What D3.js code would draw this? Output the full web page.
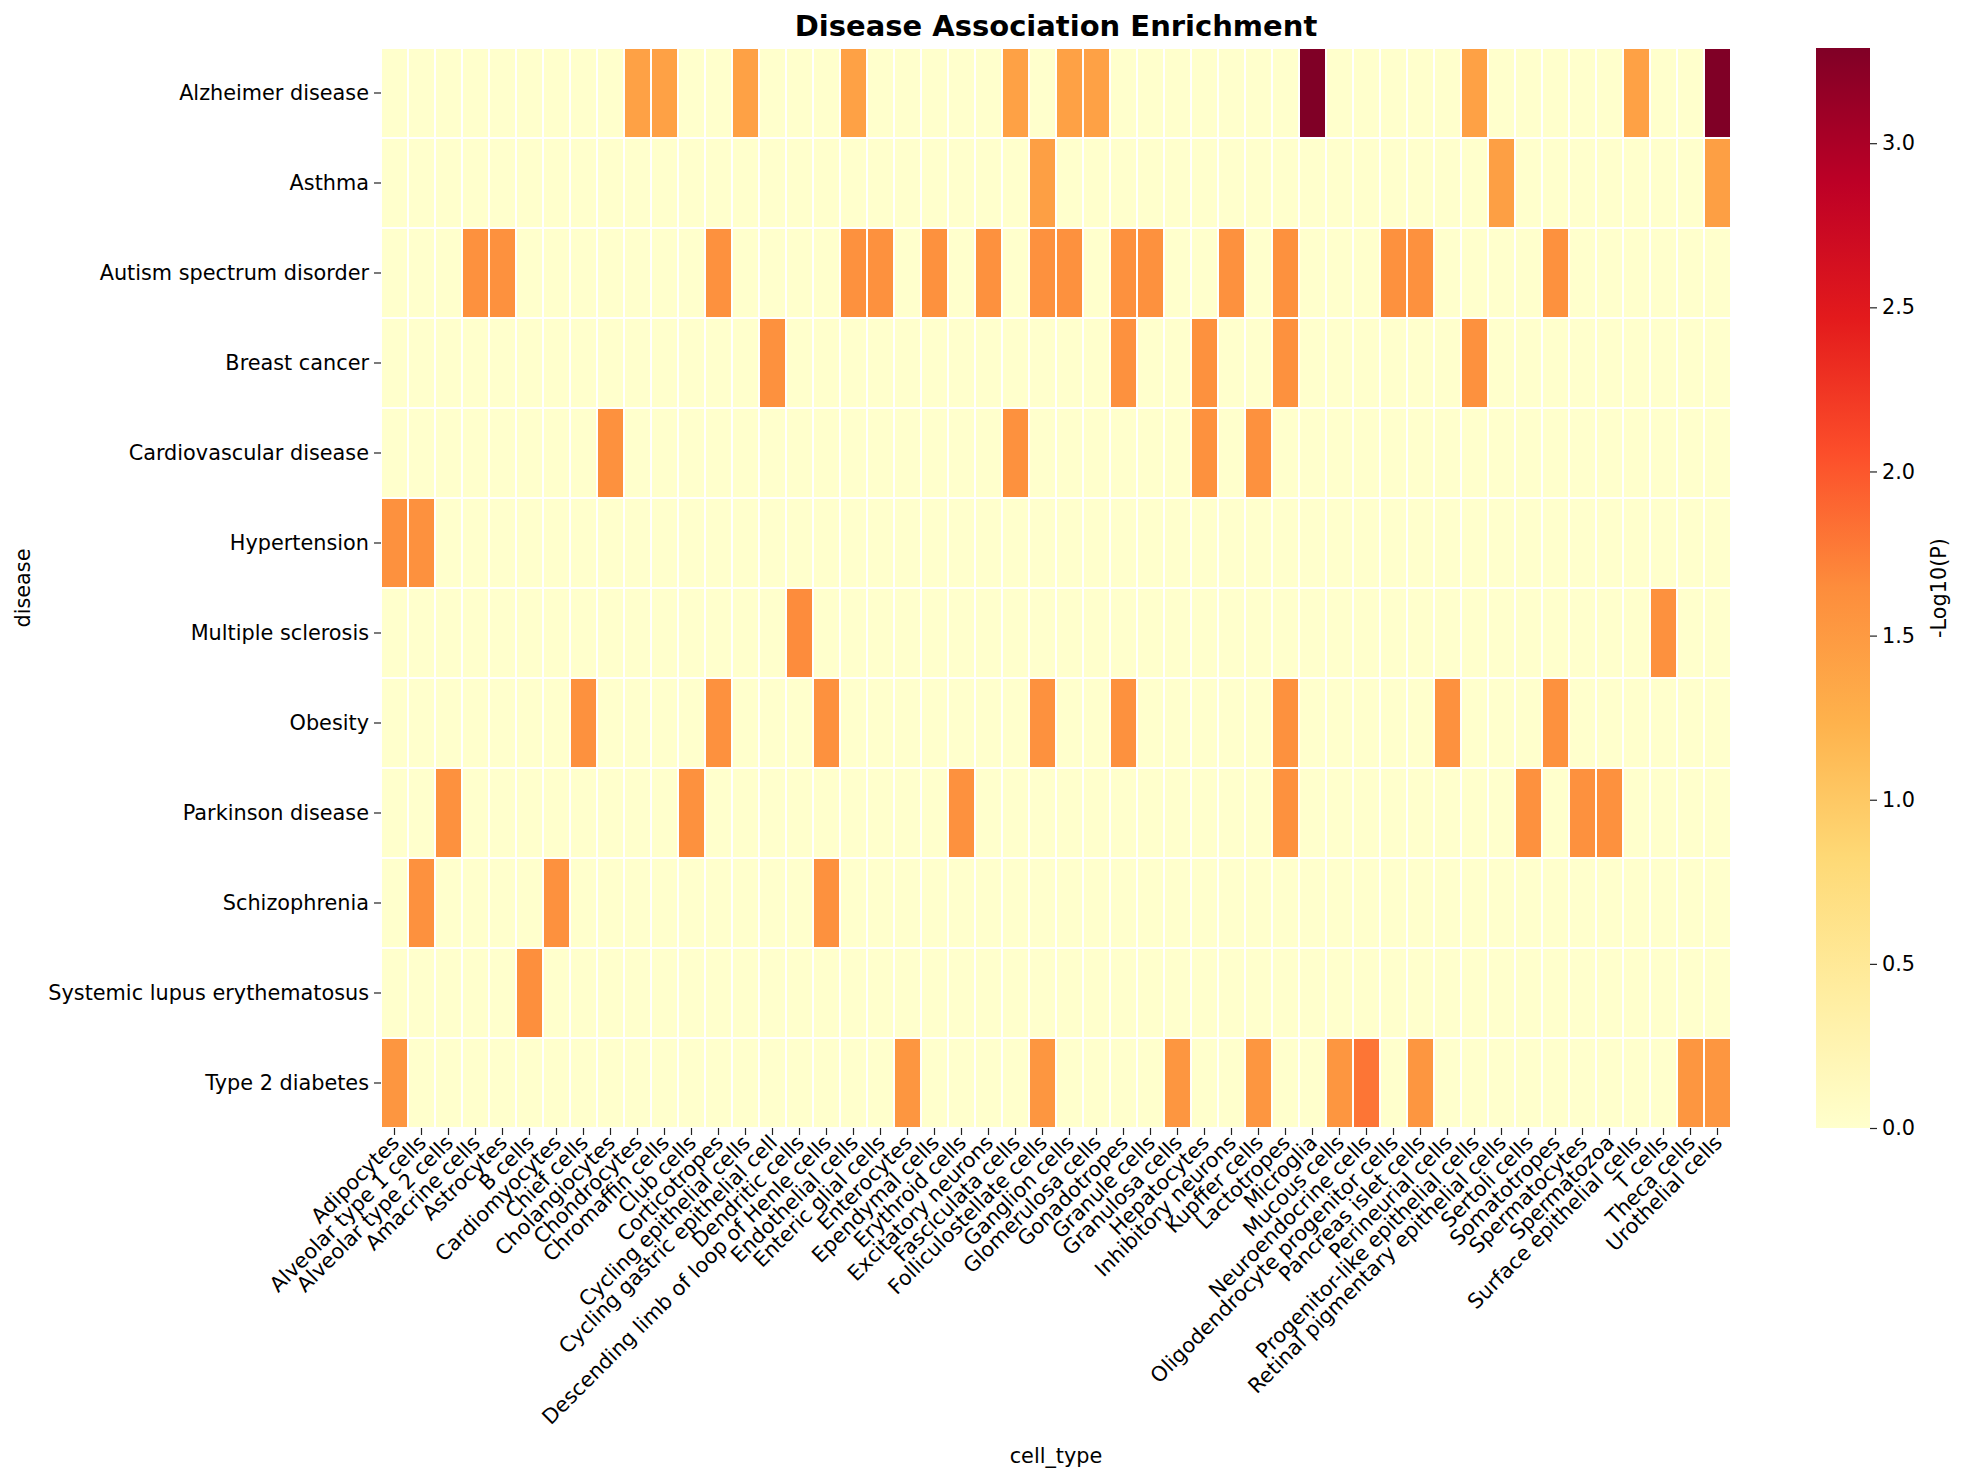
<!DOCTYPE html>
<html><head><meta charset="utf-8">
<script src="https://cdn.jsdelivr.net/npm/d3@7"></script>
<style>body{margin:0;background:#fff}svg text{font-family:"DejaVu Sans",sans-serif}</style>
</head><body><svg id="c" width="1961" height="1484"></svg>
<script>
const cellTypes = ["Adipocytes","Alveolar type 1 cells","Alveolar type 2 cells","Amacrine cells","Astrocytes","B cells","Cardiomyocytes","Chief cells","Cholangiocytes","Chondrocytes","Chromaffin cells","Club cells","Corticotropes","Cycling epithelial cells","Cycling gastric epithelial cell","Dendritic cells","Descending limb of loop of Henle cells","Endothelial cells","Enteric glial cells","Enterocytes","Ependymal cells","Erythroid cells","Excitatory neurons","Fasciculata cells","Folliculostellate cells","Ganglion cells","Glomerulosa cells","Gonadotropes","Granule cells","Granulosa cells","Hepatocytes","Inhibitory neurons","Kupffer cells","Lactotropes","Microglia","Mucous cells","Neuroendocrine cells","Oligodendrocyte progenitor cells","Pancreas islet cells","Perineurial cells","Progenitor-like epithelial cells","Retinal pigmentary epithelial cells","Sertoli cells","Somatotropes","Spermatocytes","Spermatozoa","Surface epithelial cells","T cells","Theca cells","Urothelial cells"];
const diseases = ["Alzheimer disease","Asthma","Autism spectrum disorder","Breast cancer","Cardiovascular disease","Hypertension","Multiple sclerosis","Obesity","Parkinson disease","Schizophrenia","Systemic lupus erythematosus","Type 2 diabetes"];
// non-zero enrichment values: [cell type index, -log10(P)]
const alzheimer = [[9,1.42],[10,1.42],[13,1.42],[17,1.42],[23,1.42],[25,1.42],[26,1.42],[34,3.29],[40,1.42],[46,1.42],[49,3.29]];
const asthma = [[24,1.45],[41,1.45],[49,1.45]];
const autism = [[3,1.6],[4,1.6],[12,1.6],[17,1.6],[18,1.6],[20,1.6],[22,1.6],[24,1.6],[25,1.6],[27,1.6],[28,1.6],[31,1.6],[33,1.6],[37,1.6],[38,1.6],[43,1.6]];
const breast = [[14,1.6],[27,1.6],[30,1.6],[33,1.6],[40,1.6]];
const cardio = [[8,1.6],[23,1.6],[30,1.6],[32,1.6]];
const hypertension = [[0,1.6],[1,1.6]];
const ms = [[15,1.65],[47,1.6]];
const obesity = [[7,1.6],[12,1.6],[16,1.6],[24,1.6],[27,1.6],[33,1.6],[39,1.6],[43,1.6]];
const parkinson = [[2,1.6],[11,1.6],[21,1.6],[33,1.6],[42,1.6],[44,1.6],[45,1.6]];
const schizophrenia = [[1,1.6],[6,1.6],[16,1.6]];
const sle = [[5,1.62]];
const t2d = [[0,1.55],[19,1.55],[24,1.55],[29,1.55],[32,1.55],[35,1.55],[36,1.8],[38,1.55],[48,1.55],[49,1.55]];
const rows = [alzheimer,asthma,autism,breast,cardio,hypertension,ms,obesity,parkinson,schizophrenia,sle,t2d];
const vmax = 3.29;
const cbTicks = [0,0.5,1,1.5,2,2.5,3];

const svg = d3.select("#c");
const L=381,R=1731,T=48,B=1128;
const x = d3.scaleBand().domain(cellTypes).range([L,R]);
const y = d3.scaleBand().domain(diseases).range([T,B]);
const pal = ["#ffffcc","#ffeda0","#fed976","#feb24c","#fd8d3c","#fc4e2a","#e31a1c","#bd0026","#800026"];
const color = d3.scaleLinear().domain(pal.map((_,i)=>i*vmax/8)).range(pal).clamp(true);

const cells=[];
diseases.forEach((d,i)=>{const m=new Map(rows[i]);cellTypes.forEach((c,j)=>cells.push({d,c,v:m.get(j)||0}));});
svg.append("g").selectAll("rect").data(cells).join("rect")
 .attr("x",e=>x(e.c)).attr("y",e=>y(e.d)).attr("width",x.bandwidth()).attr("height",y.bandwidth())
 .attr("fill",e=>color(e.v)).attr("stroke","#fff").attr("stroke-width",2);

const fs=20.8, tk=7;
const xa = svg.append("g").attr("transform",`translate(0,${B})`).call(d3.axisBottom(x).tickSize(tk).tickSizeOuter(0));
xa.select(".domain").remove();
xa.selectAll("line").attr("stroke","#222").attr("stroke-width",1.2);
xa.selectAll("text").attr("font-size",fs).attr("fill","#000").attr("text-anchor","end").attr("dy",0).attr("y",0)
 .attr("transform","translate(6,16) rotate(-45)");
const ya = svg.append("g").attr("transform",`translate(${L},0)`).call(d3.axisLeft(y).tickSize(tk).tickSizeOuter(0));
ya.select(".domain").remove();
ya.selectAll("line").attr("stroke","#222").attr("stroke-width",1.2);
ya.selectAll("text").attr("font-size",fs).attr("fill","#000").attr("x",-12);

svg.append("text").attr("x",(L+R)/2).attr("y",36).attr("text-anchor","middle").attr("font-size",29).attr("font-weight","bold").text("Disease Association Enrichment");
svg.append("text").attr("x",(L+R)/2).attr("y",1463).attr("text-anchor","middle").attr("font-size",fs).text("cell_type");
svg.append("text").attr("transform",`translate(30,${(T+B)/2}) rotate(-90)`).attr("text-anchor","middle").attr("font-size",fs).text("disease");

// colorbar
const cx=1816,cw=54;
const cy = d3.scaleLinear().domain([0,vmax]).range([B,T]);
const defs=svg.append("defs");
const g=defs.append("linearGradient").attr("id","cb").attr("x1",0).attr("y1",1).attr("x2",0).attr("y2",0);
pal.forEach((p,i)=>g.append("stop").attr("offset",i/8).attr("stop-color",p));
svg.append("rect").attr("x",cx).attr("y",T).attr("width",cw).attr("height",B-T).attr("fill","url(#cb)");
const ca=svg.append("g").attr("transform",`translate(${cx+cw},0)`).call(d3.axisRight(cy).tickValues(cbTicks).tickFormat(d3.format(".1f")).tickSize(tk));
ca.select(".domain").remove();
ca.selectAll("line").attr("stroke","#222").attr("stroke-width",1.2);
ca.selectAll("text").attr("font-size",fs).attr("fill","#000").attr("x",12);
svg.append("text").attr("transform",`translate(1946,${(T+B)/2}) rotate(-90)`).attr("text-anchor","middle").attr("font-size",fs).text("-Log10(P)");
</script></body></html>
